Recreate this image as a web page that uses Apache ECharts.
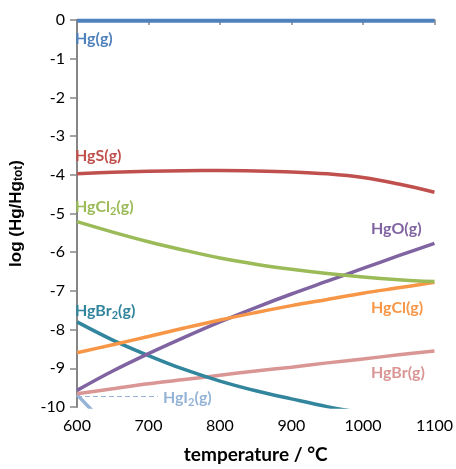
<!DOCTYPE html>
<html>
<head>
<meta charset="utf-8">
<script src="https://cdn.jsdelivr.net/npm/echarts@6/dist/echarts.min.js"></script>
<style>html,body{margin:0;padding:0;background:#fff}#c{width:456px;height:469px}</style>
</head>
<body>
<div id="c"></div>
<script>
var temps = [600, 650, 700, 750, 800, 850, 900, 950, 1000, 1050, 1100];
var xTicks = [600, 700, 800, 900, 1000, 1100];
var yTicks = [0, -1, -2, -3, -4, -5, -6, -7, -8, -9, -10];
var hg     = [-0.02, -0.02, -0.02, -0.02, -0.02, -0.02, -0.02, -0.02, -0.02, -0.02, -0.02];
var hgS    = [-3.97, -3.935, -3.91, -3.895, -3.89, -3.90, -3.925, -3.975, -4.07, -4.24, -4.45];
var hgCl2  = [-5.21, -5.48, -5.73, -5.95, -6.15, -6.31, -6.44, -6.55, -6.64, -6.71, -6.76];
var hgO    = [-9.57, -9.07, -8.62, -8.20, -7.80, -7.43, -7.08, -6.75, -6.42, -6.09, -5.77];
var hgBr2  = [-7.80, -8.27, -8.67, -9.03, -9.33, -9.58, -9.79, -9.99, -10.15, -10.29, -10.42];
var hgCl   = [-8.60, -8.39, -8.18, -7.96, -7.75, -7.56, -7.38, -7.22, -7.06, -6.92, -6.78];
var hgBr   = [-9.66, -9.53, -9.40, -9.29, -9.18, -9.07, -8.97, -8.86, -8.76, -8.65, -8.55];
var hgI2   = [-9.68, -10.6, -11.3, -11.9, -12.4, -12.9, -13.3, -13.7, -14.0, -14.3, -14.6];
var hgI2Leader = [[600, -9.73], [713, -9.73]];

var colors = {
  hg: '#4f81bd', hgS: '#c0504d', hgCl2: '#9bbb59', hgO: '#8064a2',
  hgBr2: '#31859c', hgCl: '#f79646', hgBr: '#d99694', hgI2: '#95b3d7'
};

function pairs(arr) { return temps.map(function (t, i) { return [t, arr[i]]; }); }
function line(name, arr, color, extra) {
  var s = {
    name: name, type: 'line', data: pairs(arr), smooth: 0.35, symbol: 'none',
    clip: true, lineStyle: { color: color, width: 3.5 }, z: 3
  };
  if (extra) for (var k in extra) s[k] = extra[k];
  return s;
}

var font = 'Lato, "Open Sans", sans-serif';
function lbl(text, x, y, color) {
  return {
    type: 'text', left: x, top: y, z: 10,
    style: {
      text: text, fill: color, font: 'bold 16px ' + font,
      rich: {
        a: { fontFamily: font, fontWeight: 'bold', fontSize: 16, lineHeight: 20, fill: color },
        s: { fontFamily: font, fontWeight: 'bold', fontSize: 11, lineHeight: 10, verticalAlign: 'bottom', fill: color }
      }
    }
  };
}

var chart = echarts.init(document.getElementById('c'), null, { renderer: 'canvas' });
chart.setOption({
  animation: false,
  grid: { left: 70.5, right: 21, top: 20, bottom: 59, containLabel: false },
  xAxis: {
    type: 'value', min: 600, max: 1100, interval: 100,
    name: 'temperature / °C', nameLocation: 'middle', nameGap: 38,
    nameTextStyle: { fontFamily: font, fontWeight: 'bold', fontSize: 19, color: '#000' },
    axisLine: { lineStyle: { color: '#868686', width: 2 } },
    axisTick: { show: true, length: 5, lineStyle: { color: '#868686', width: 1.5 } },
    axisLabel: { fontFamily: font, fontSize: 16, color: '#000', margin: 11,
      formatter: function (v) { return xTicks.indexOf(v) >= 0 ? String(v) : ''; } },
    splitLine: { show: false }
  },
  yAxis: {
    type: 'value', min: -10, max: 0, interval: 1,
    name: 'log (Hg/Hg{s|tot})', nameLocation: 'middle', nameGap: 52, nameRotate: 90,
    nameTextStyle: {
      fontFamily: '"Liberation Sans", Arial, sans-serif', fontWeight: 'bold', fontSize: 17, color: '#000',
      rich: { s: { fontFamily: '"Liberation Sans", Arial, sans-serif', fontWeight: 'bold', fontSize: 12, verticalAlign: 'bottom', lineHeight: 10 } }
    },
    axisLine: { show: true, lineStyle: { color: '#868686', width: 2 } },
    axisTick: { show: true, length: 7, lineStyle: { color: '#868686', width: 1.5 } },
    axisLabel: { fontFamily: font, fontSize: 16, color: '#000', margin: 12,
      formatter: function (v) { return yTicks.indexOf(v) >= 0 ? String(v) : ''; } },
    splitLine: { show: false }
  },
  series: [
    line('HgI2(g)', hgI2, colors.hgI2, {
      markLine: {
        silent: true, symbol: 'none', label: { show: false },
        lineStyle: { color: colors.hgI2, width: 1, type: [5, 3] },
        data: [[{ coord: hgI2Leader[0] }, { coord: hgI2Leader[1] }]]
      }
    }),
    line('HgBr(g)', hgBr, colors.hgBr),
    line('HgBr2(g)', hgBr2, colors.hgBr2),
    line('HgO(g)', hgO, colors.hgO),
    line('HgCl(g)', hgCl, colors.hgCl),
    line('HgCl2(g)', hgCl2, colors.hgCl2),
    line('HgS(g)', hgS, colors.hgS),
    line('Hg(g)', hg, colors.hg, { lineStyle: { color: colors.hg, width: 4 } })
  ],
  graphic: [
    lbl('{a|Hg(g)}', 75, 31, colors.hg),
    lbl('{a|HgS(g)}', 75, 148, colors.hgS),
    lbl('{a|HgCl}{s|2}{a|(g)}', 75, 199, colors.hgCl2),
    lbl('{a|HgO(g)}', 371, 221, colors.hgO),
    lbl('{a|HgBr}{s|2}{a|(g)}', 75, 303, colors.hgBr2),
    lbl('{a|HgCl(g)}', 371, 300, colors.hgCl),
    lbl('{a|HgBr(g)}', 371, 365, colors.hgBr),
    lbl('{a|HgI}{s|2}{a|(g)}', 163, 390, colors.hgI2)
  ]
});
</script>
</body>
</html>
